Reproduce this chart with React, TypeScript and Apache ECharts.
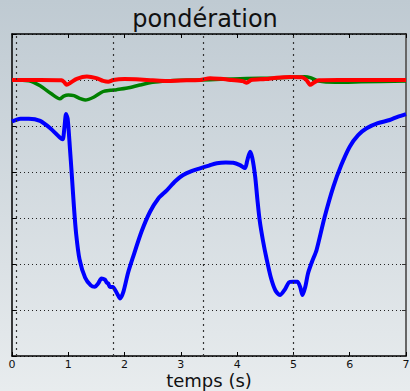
import React, { useEffect, useRef } from "react";
import * as echarts from "echarts";

const xTicks = [0, 1, 2, 3, 4, 5, 6, 7];
const vGrid = [0.083, 1.79, 3.39, 5.0];

const blueT = [0, 0.15, 0.3, 0.5, 0.68, 0.85, 0.9, 0.93, 0.96, 0.99, 1.03, 1.06, 1.1, 1.14, 1.2, 1.3, 1.4, 1.47, 1.53, 1.59, 1.65, 1.68, 1.71, 1.74, 1.79, 1.86, 1.92, 1.98, 2.06, 2.15, 2.3, 2.45, 2.6, 2.75, 2.9, 3.04, 3.2, 3.34, 3.5, 3.64, 3.8, 3.93, 4.05, 4.14, 4.18, 4.23, 4.27, 4.32, 4.36, 4.4, 4.46, 4.52, 4.6, 4.68, 4.76, 4.85, 4.92, 4.99, 5.07, 5.12, 5.16, 5.21, 5.26, 5.33, 5.41, 5.55, 5.71, 5.85, 6.0, 6.15, 6.3, 6.5, 6.71, 6.85, 7.0];
const blueV = [0.82, 0.832, 0.832, 0.822, 0.79, 0.75, 0.742, 0.79, 0.852, 0.83, 0.7, 0.596, 0.45, 0.33, 0.22, 0.14, 0.107, 0.101, 0.115, 0.137, 0.132, 0.12, 0.115, 0.1, 0.1, 0.075, 0.05, 0.08, 0.16, 0.23, 0.34, 0.426, 0.485, 0.52, 0.56, 0.587, 0.605, 0.616, 0.628, 0.638, 0.641, 0.64, 0.63, 0.617, 0.65, 0.688, 0.66, 0.58, 0.48, 0.39, 0.3, 0.226, 0.14, 0.085, 0.065, 0.09, 0.12, 0.123, 0.123, 0.1, 0.065, 0.1, 0.16, 0.21, 0.26, 0.4, 0.536, 0.63, 0.71, 0.76, 0.79, 0.812, 0.826, 0.84, 0.852];

const greenT = [0, 0.3, 0.5, 0.7, 0.85, 0.92, 1.0, 1.1, 1.2, 1.3, 1.45, 1.62, 1.75, 1.86, 2.05, 2.27, 2.5, 2.75, 3.0, 3.34, 3.7, 4.17, 4.67, 5.0, 5.2, 5.3, 5.45, 5.74, 6.2, 7.0];
const greenV = [1.0, 0.997, 0.975, 0.94, 0.918, 0.93, 0.935, 0.932, 0.92, 0.913, 0.925, 0.95, 0.955, 0.958, 0.965, 0.978, 0.99, 0.996, 0.999, 1.0, 1.003, 1.006, 1.009, 1.012, 1.014, 1.01, 0.995, 0.99, 0.992, 0.996];

const redT = [0, 0.5, 0.88, 0.93, 0.97, 1.05, 1.15, 1.33, 1.5, 1.62, 1.71, 1.8, 2.0, 2.2, 2.5, 2.75, 3.0, 3.34, 3.52, 3.7, 3.9, 4.1, 4.17, 4.25, 4.5, 4.7, 4.94, 5.15, 5.23, 5.3, 5.36, 5.45, 5.8, 7.0];
const redV = [1.0, 1.0, 0.999, 0.99, 0.979, 0.99, 1.005, 1.015, 1.008, 0.996, 0.992, 1.0, 1.004, 1.003, 0.999, 0.996, 0.998, 1.0, 1.008, 1.005, 1.0, 0.995, 0.988, 1.0, 1.004, 1.01, 1.013, 1.012, 1.0, 0.979, 0.988, 0.999, 1.0, 1.0];

const zip = (t: number[], v: number[]) => t.map((x, i) => [x, v[i]]);

export default function App() {
  const ref = useRef<HTMLDivElement>(null);
  useEffect(() => {
    const chart = echarts.init(ref.current!, null, { renderer: "svg" });
    const font = "DejaVu Sans";
    chart.setOption({
      animation: false,
      backgroundColor: new echarts.graphic.LinearGradient(0, 0, 0, 1, [
        { offset: 0, color: "#bfcad2" },
        { offset: 1, color: "#e8ecee" },
      ]),
      title: {
        text: "pondération",
        left: "center",
        top: 2,
        textStyle: { fontFamily: font, fontSize: 24, fontWeight: "normal", color: "#111" },
      },
      grid: { left: 12, right: 4, top: 34, bottom: 35, outerBoundsMode: "none", containLabel: false },
      xAxis: [
        {
          type: "value",
          min: 0,
          max: 7,
          interval: 1,
          name: "temps (s)",
          nameLocation: "middle",
          nameGap: 15,
          nameMoveOverlap: false,
          nameTextStyle: { fontFamily: font, fontSize: 18, lineHeight: 18, color: "#111", verticalAlign: "top" },
          axisLine: { show: true, onZero: false, lineStyle: { color: "#000", width: 1.5 } },
          axisTick: { show: true, inside: true, length: 4, lineStyle: { color: "#000" } },
          axisLabel: { fontFamily: font, fontSize: 11, lineHeight: 12, color: "#111", margin: 2 },
          splitLine: { show: false },
        },
        {
          type: "value",
          position: "top",
          min: 0,
          max: 7,
          interval: 1,
          axisLine: { show: true, onZero: false, lineStyle: { color: "#000", width: 1.5 } },
          axisTick: { show: true, inside: true, length: 4, lineStyle: { color: "#000" } },
          axisLabel: { show: false },
          splitLine: { show: false },
        },
      ],
      yAxis: [
        {
          type: "value",
          min: -0.2,
          max: 1.2,
          interval: 0.2,
          axisLine: { show: true, onZero: false, lineStyle: { color: "#000", width: 1.5 } },
          axisTick: { show: true, inside: true, length: 4, lineStyle: { color: "#000" } },
          axisLabel: { show: false },
          splitLine: { show: true, lineStyle: { color: "#222", type: [1, 3], width: 1 } },
        },
        {
          type: "value",
          position: "right",
          min: -0.2,
          max: 1.2,
          interval: 0.2,
          axisLine: { show: true, onZero: false, lineStyle: { color: "#666", width: 2 } },
          axisTick: { show: true, inside: true, length: 4, lineStyle: { color: "#333" } },
          axisLabel: { show: false },
          splitLine: { show: false },
        },
      ],
      series: [
        {
          type: "line",
          data: [],
          silent: true,
          markLine: {
            silent: true,
            symbol: "none",
            label: { show: false },
            lineStyle: { color: "#333", type: [2, 4], width: 1.2 },
            data: vGrid.map((x) => ({ xAxis: x })),
          },
        },
        {
          type: "line",
          data: zip(blueT, blueV),
          smooth: 0.25,
          showSymbol: false,
          lineStyle: { color: "#0000ff", width: 4 },
          itemStyle: { color: "#0000ff" },
        },
        {
          type: "line",
          data: zip(greenT, greenV),
          smooth: 0.25,
          showSymbol: false,
          lineStyle: { color: "#008000", width: 3.5 },
          itemStyle: { color: "#008000" },
        },
        {
          type: "line",
          data: zip(redT, redV),
          smooth: 0.25,
          showSymbol: false,
          lineStyle: { color: "#ff0000", width: 4 },
          itemStyle: { color: "#ff0000" },
        },
      ],
    });
    return () => chart.dispose();
  }, []);
  return (
    <div
      ref={ref}
      style={{ position: "absolute", left: 0, top: 0, width: 410, height: 391 }}
    />
  );
}
